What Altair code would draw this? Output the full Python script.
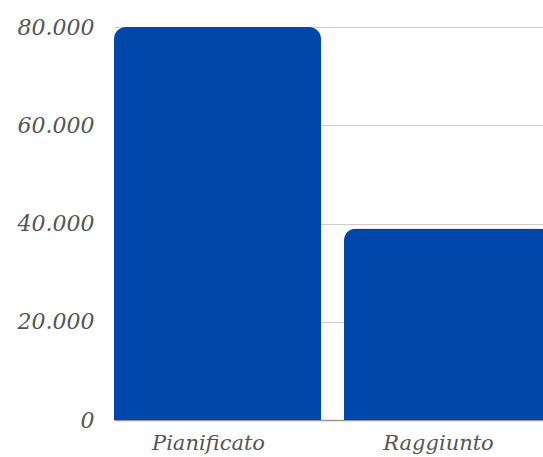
import altair as alt
import pandas as pd

# Planned vs. achieved totals
categories = ["Pianificato", "Raggiunto"]
values = [80000, 39000]

df = pd.DataFrame({"categoria": categories, "valore": values})

label_font = "DejaVu Serif"

chart = (
    alt.Chart(df)
    .mark_bar(
        color="#0047AB",
        cornerRadiusTopLeft=12,
        cornerRadiusTopRight=12,
    )
    .encode(
        x=alt.X(
            "categoria:N",
            sort=categories,
            scale=alt.Scale(range=[0, 437], paddingInner=0.1, paddingOuter=0),
            axis=alt.Axis(
                title=None,
                labelAngle=0,
                ticks=False,
                domain=True,
                domainColor="#999999",
                domainWidth=1.5,
                labelFont=label_font,
                labelFontStyle="italic",
                labelFontSize=21,
                labelColor="#555555",
                labelPadding=12,
                labelOffset=-9,
            ),
        ),
        y=alt.Y(
            "valore:Q",
            scale=alt.Scale(domain=[0, 80000], nice=False),
            axis=alt.Axis(
                title=None,
                values=[0, 20000, 40000, 60000, 80000],
                labelExpr="replace(format(datum.value, ','), ',', '.')",
                ticks=False,
                domain=False,
                grid=True,
                gridColor="#cccccc",
                labelFont=label_font,
                labelFontStyle="italic",
                labelFontSize=22,
                labelColor="#555555",
                labelPadding=20,
            ),
        ),
    )
    .properties(
        width=429,
        height=393,
        autosize=alt.AutoSizeParams(type="none"),
        padding={"left": 114, "top": 27, "right": 0, "bottom": 37},
    )
    .configure_view(stroke=None)
)

chart.save("out.html", embed_options={"renderer": "svg", "actions": False})
